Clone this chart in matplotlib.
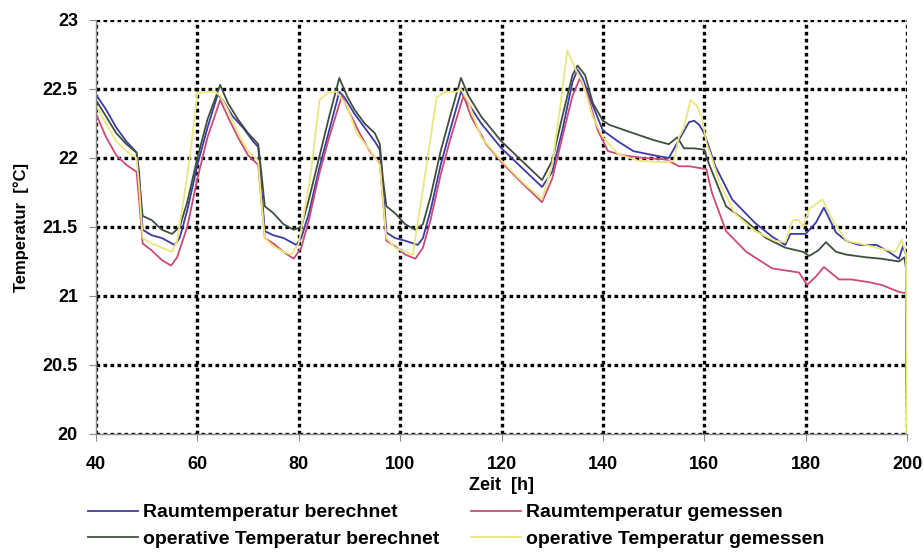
import matplotlib
matplotlib.use("Agg")
import matplotlib.pyplot as plt
from matplotlib import font_manager

# Raumtemperatur berechnet
t_raum_ber = [40, 42, 44, 46, 48, 48.5, 49.2, 51, 53, 55.5, 56.5, 58, 60, 62, 64, 65, 67, 69, 71, 72,
              72.6, 73.3, 75, 77, 79.5, 80.5, 82, 84, 86, 88, 89, 91, 93, 95, 96, 96.6, 97.3, 99, 101,
              103.5, 104.5, 106, 108, 110, 112, 113, 116, 120, 124, 128, 130, 132, 134, 135, 136, 138,
              140, 143, 146, 150, 153, 155, 157, 158, 159, 160, 162.2, 165.5, 170, 173.4, 176, 177,
              180, 182, 183.6, 186, 188, 190.6, 194, 196.4, 198.4, 199.2, 199.8, 200]
T_raum_ber = [22.46, 22.35, 22.22, 22.12, 22.04, 21.9, 21.48, 21.44, 21.42, 21.37, 21.42, 21.62, 21.95,
              22.22, 22.46, 22.42, 22.3, 22.22, 22.12, 22.08, 21.8, 21.47, 21.44, 21.42, 21.37, 21.42,
              21.6, 21.92, 22.2, 22.48, 22.44, 22.32, 22.22, 22.12, 22.06, 21.8, 21.46, 21.42, 21.4,
              21.37, 21.42, 21.62, 21.95, 22.22, 22.48, 22.42, 22.25, 22.07, 21.93, 21.79, 21.9, 22.2,
              22.55, 22.64, 22.58, 22.38, 22.2, 22.12, 22.05, 22.02, 22.0, 22.13, 22.26, 22.27, 22.24,
              22.18, 21.94, 21.7, 21.53, 21.43, 21.37, 21.45, 21.45, 21.53, 21.64, 21.46, 21.4, 21.37,
              21.37, 21.32, 21.27, 21.36, 21.3, 20.0]

# Raumtemperatur gemessen
t_raum_gem = [40, 42, 44, 46, 48, 48.5, 49.2, 51, 53, 54.8, 56, 58, 60, 62, 64.5, 66, 68, 70, 72, 72.6,
              73.3, 75, 77, 79, 80.5, 82, 84, 86, 88.5, 90, 92, 94, 96, 96.6, 97.3, 99, 101, 103, 104.5,
              106, 108, 110, 112.5, 114, 117, 120, 124, 128, 130, 132, 134, 135.5, 137, 139, 141, 144,
              148, 152.5, 155, 157, 160.4, 161.5, 164.3, 168.3, 173.4, 178.7, 180.3, 182, 183.6, 186.6,
              189, 192.5, 195, 198.4, 199.8, 200]
T_raum_gem = [22.32, 22.15, 22.02, 21.95, 21.9, 21.7, 21.38, 21.33, 21.26, 21.22, 21.28, 21.5, 21.85,
              22.15, 22.42, 22.3, 22.15, 22.02, 21.95, 21.7, 21.42, 21.38, 21.32, 21.27, 21.35, 21.55,
              21.88, 22.15, 22.45, 22.33, 22.18, 22.05, 21.96, 21.7, 21.4, 21.36, 21.3, 21.27, 21.35,
              21.55, 21.88, 22.15, 22.45, 22.3, 22.1, 21.97, 21.82, 21.68, 21.85, 22.15, 22.45, 22.58,
              22.45, 22.2, 22.05, 22.02, 22.0, 21.99, 21.94, 21.94, 21.92, 21.75, 21.47, 21.32, 21.2,
              21.17, 21.08, 21.14, 21.21, 21.12, 21.12, 21.1, 21.08, 21.03, 21.02, 20.0]

# operative Temperatur berechnet
t_op_ber = [40, 42, 44, 46, 48, 48.5, 49.2, 51, 53, 55, 56.5, 58, 60, 62, 64.5, 66, 68, 70, 72, 72.6,
            73.3, 75, 77, 79, 80.5, 82, 84, 86, 88, 89.5, 91, 93, 95, 96, 96.6, 97.3, 99, 101, 103,
            104.5, 106, 108, 110, 112, 113.5, 116, 120, 124, 128, 130, 132, 134, 135, 136.5, 138, 140,
            141.3, 146, 150, 153, 154.7, 156, 158, 160, 161, 164.3, 168.3, 172.2, 176, 179.5, 180.7,
            182.5, 184, 186, 188, 192, 195, 198.4, 199.5, 199.8, 200]
T_op_ber = [22.42, 22.3, 22.18, 22.1, 22.04, 21.85, 21.58, 21.55, 21.48, 21.45, 21.5, 21.68, 22.0, 22.28,
            22.53, 22.4, 22.28, 22.18, 22.1, 21.9, 21.65, 21.6, 21.52, 21.48, 21.5, 21.7, 22.0, 22.3,
            22.58, 22.45, 22.35, 22.25, 22.18, 22.1, 21.85, 21.65, 21.6, 21.52, 21.48, 21.52, 21.72,
            22.05, 22.32, 22.58, 22.45, 22.3, 22.12, 21.98, 21.84, 21.98, 22.3, 22.6, 22.67, 22.6,
            22.4, 22.27, 22.24, 22.18, 22.13, 22.1, 22.15, 22.07, 22.07, 22.06, 21.95, 21.65, 21.54,
            21.42, 21.35, 21.32, 21.29, 21.33, 21.39, 21.32, 21.3, 21.28, 21.27, 21.25, 21.28, 21.2,
            20.0]

# operative Temperatur gemessen
t_op_gem = [40, 42, 44, 46, 48, 48.5, 49.2, 51, 53, 55, 56, 57.5, 58.5, 60, 62, 63.5, 64.5, 66, 68, 70,
            72, 72.6, 73.3, 75, 77, 78.5, 80, 82.2, 84.1, 86, 87.5, 89.5, 91.4, 94, 96, 96.6, 97.3, 99,
            101, 102.5, 104.4, 107.2, 109, 111.1, 112, 113.5, 116, 120, 124, 128, 130, 131.5, 133,
            134.5, 136, 138, 140, 143, 147, 152, 154, 155, 156, 157.3, 158.5, 159.5, 160.5, 161.5, 163,
            166, 170, 174, 176, 177.5, 178.7, 179.5, 180.7, 183.3, 185.3, 188, 191.9, 194, 197.7, 199,
            199.8, 200]
T_op_gem = [22.38, 22.25, 22.12, 22.05, 22.0, 21.8, 21.42, 21.38, 21.35, 21.32, 21.4, 21.75, 22.0, 22.47,
            22.48, 22.48, 22.45, 22.35, 22.18, 22.05, 21.98, 21.7, 21.42, 21.36, 21.32, 21.3, 21.38,
            21.84, 22.42, 22.48, 22.48, 22.38, 22.18, 22.06, 21.95, 21.7, 21.42, 21.35, 21.32, 21.3,
            21.75, 22.44, 22.48, 22.48, 22.5, 22.4, 22.15, 21.98, 21.83, 21.7, 21.95, 22.35, 22.78,
            22.65, 22.55, 22.3, 22.15, 22.03, 21.98, 21.97, 21.98, 22.15, 22.22, 22.42, 22.38, 22.3,
            22.1, 22.0, 21.82, 21.6, 21.47, 21.4, 21.39, 21.55, 21.55, 21.5, 21.63, 21.7, 21.55, 21.4,
            21.37, 21.35, 21.32, 21.41, 21.3, 20.0]

labels = ["Raumtemperatur berechnet", "Raumtemperatur gemessen",
          "operative Temperatur berechnet", "operative Temperatur gemessen"]
colors = ["#3b3ba8", "#cc4a78", "#3f4f3e", "#ece67e"]

xticks = [40, 60, 80, 100, 120, 140, 160, 180, 200]
yticks = [20, 20.5, 21, 21.5, 22, 22.5, 23]
ytick_labels = ["20", "20.5", "21", "21.5", "22", "22.5", "23"]

names = {f.name for f in font_manager.fontManager.ttflist}
narrow = "Liberation Sans Narrow" if "Liberation Sans Narrow" in names else "Liberation Sans"
plt.rcParams["font.family"] = [narrow, "DejaVu Sans"]
plt.rcParams["font.weight"] = "bold"

fig = plt.figure(figsize=(9.24, 5.55), dpi=100)
ax = fig.add_axes([96 / 924, 1 - 434 / 555, (907 - 96) / 924, (434 - 20) / 555])

series = [(t_raum_ber, T_raum_ber), (t_raum_gem, T_raum_gem),
          (t_op_ber, T_op_ber), (t_op_gem, T_op_gem)]
lines = []
for (t, T), c, lab in zip(series, colors, labels):
    ln, = ax.plot(t, T, color=c, lw=1.3, label=lab)
    lines.append(ln)

ax.set_xlim(40, 200)
ax.set_ylim(20, 23)
ax.set_xticks(xticks)
ax.set_yticks(yticks)
ax.set_yticklabels(ytick_labels)
ax.grid(True, color="black", lw=2.4, linestyle=(0, (1.1, 1.0)))
ax.set_axisbelow(True)

for side in ("top", "right"):
    ax.spines[side].set_visible(False)
for side in ("left", "bottom"):
    ax.spines[side].set_color("#8a8a8a")
    ax.spines[side].set_linewidth(1.0)
ax.tick_params(axis="both", direction="out", length=5, color="#8a8a8a", labelsize=13, pad=8)
ax.tick_params(axis="x", pad=11)

ax.set_xlabel("Zeit  [h]", fontsize=13, fontweight="bold", labelpad=3)
ax.set_ylabel("Temperatur  [°C]", fontsize=12, fontweight="bold", labelpad=10)

order = [0, 2, 1, 3]
fig.legend([lines[i] for i in order], [labels[i] for i in order], ncol=2,
           loc="upper left", bbox_to_anchor=(80 / 924, 1 - 496 / 555), frameon=False,
           fontsize=14, handlelength=2.6, handletextpad=0.25, labelspacing=0.45,
           columnspacing=1.6, borderaxespad=0)

fig.savefig("out.png", dpi=100)
